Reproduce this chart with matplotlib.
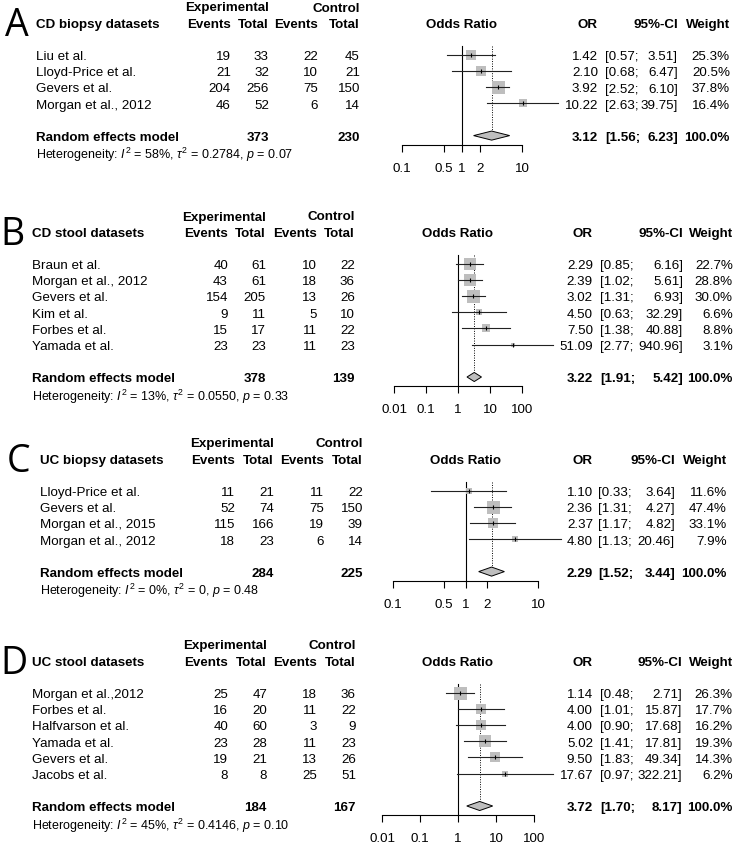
import matplotlib
matplotlib.use('Agg')
import matplotlib.pyplot as plt
import numpy as np
from matplotlib.ticker import FixedLocator, FixedFormatter, NullLocator

plt.rcParams['font.family'] = ['Liberation Sans', 'DejaVu Sans']
plt.rcParams['mathtext.fontset'] = 'custom'
plt.rcParams['mathtext.rm'] = 'Liberation Sans'
plt.rcParams['mathtext.it'] = 'Liberation Sans:italic'

# A - CD biopsy
a_names = ['Liu et al.', 'Lloyd-Price et al.', 'Gevers et al.', 'Morgan et al., 2012']
a_ev_e = [19, 21, 204, 46]
a_n_e = [33, 32, 256, 52]
a_ev_c = [22, 10, 75, 6]
a_n_c = [45, 21, 150, 14]
a_or = [1.42, 2.10, 3.92, 10.22]
a_lo = [0.57, 0.68, 2.52, 2.63]
a_hi = [3.51, 6.47, 6.10, 39.75]
a_w = [25.3, 20.5, 37.8, 16.4]
a_pool = [3.12, 1.56, 6.23]
a_tot = [373, 230]
a_het = ['58%', '0.2784', '0.07']

# B - CD stool
b_names = ['Braun et al.', 'Morgan et al., 2012', 'Gevers et al.', 'Kim et al.', 'Forbes et al.', 'Yamada et al.']
b_ev_e = [40, 43, 154, 9, 15, 23]
b_n_e = [61, 61, 205, 11, 17, 23]
b_ev_c = [10, 18, 13, 5, 11, 11]
b_n_c = [22, 36, 26, 10, 22, 23]
b_or = [2.29, 2.39, 3.02, 4.50, 7.50, 51.09]
b_lo = [0.85, 1.02, 1.31, 0.63, 1.38, 2.77]
b_hi = [6.16, 5.61, 6.93, 32.29, 40.88, 940.96]
b_w = [22.7, 28.8, 30.0, 6.6, 8.8, 3.1]
b_pool = [3.22, 1.91, 5.42]
b_tot = [378, 139]
b_het = ['13%', '0.0550', '0.33']

# C - UC biopsy
c_names = ['Lloyd-Price et al.', 'Gevers et al.', 'Morgan et al., 2015', 'Morgan et al., 2012']
c_ev_e = [11, 52, 115, 18]
c_n_e = [21, 74, 166, 23]
c_ev_c = [11, 75, 19, 6]
c_n_c = [22, 150, 39, 14]
c_or = [1.10, 2.36, 2.37, 4.80]
c_lo = [0.33, 1.31, 1.17, 1.13]
c_hi = [3.64, 4.27, 4.82, 20.46]
c_w = [11.6, 47.4, 33.1, 7.9]
c_pool = [2.29, 1.52, 3.44]
c_tot = [284, 225]
c_het = ['0%', '0', '0.48']

# D - UC stool
d_names = ['Morgan et al.,2012', 'Forbes et al.', 'Halfvarson et al.', 'Yamada et al.', 'Gevers et al.', 'Jacobs et al.']
d_ev_e = [25, 16, 40, 23, 19, 8]
d_n_e = [47, 20, 60, 28, 21, 8]
d_ev_c = [18, 11, 3, 11, 13, 25]
d_n_c = [36, 22, 9, 23, 26, 51]
d_or = [1.14, 4.00, 4.00, 5.02, 9.50, 17.67]
d_lo = [0.48, 1.01, 0.90, 1.41, 1.83, 0.97]
d_hi = [2.71, 15.87, 17.68, 17.81, 49.34, 322.21]
d_w = [26.3, 17.7, 16.2, 19.3, 14.3, 6.2]
d_pool = [3.72, 1.70, 8.17]
d_tot = [184, 167]
d_het = ['45%', '0.4146', '0.10']

small_ticks = [0.1, 0.5, 1, 2, 10]
small_labels = ['0.1', '0.5', '1', '2', '10']
wide_ticks = [0.01, 0.1, 1, 10, 100]
wide_labels = ['0.01', '0.1', '1', '10', '100']

W, H = 737, 845
L = 16.2
FS = 9.6

panels = [
    dict(letter='A', title='CD biopsy datasets', names=a_names, ev_e=a_ev_e, n_e=a_n_e, ev_c=a_ev_c, n_c=a_n_c,
         OR=a_or, lo=a_lo, hi=a_hi, w=a_w, pool=a_pool, tot=a_tot, het=a_het, ticks=small_ticks, labels=small_labels),
    dict(letter='B', title='CD stool datasets', names=b_names, ev_e=b_ev_e, n_e=b_n_e, ev_c=b_ev_c, n_c=b_n_c,
         OR=b_or, lo=b_lo, hi=b_hi, w=b_w, pool=b_pool, tot=b_tot, het=b_het, ticks=wide_ticks, labels=wide_labels),
    dict(letter='C', title='UC biopsy datasets', names=c_names, ev_e=c_ev_e, n_e=c_n_e, ev_c=c_ev_c, n_c=c_n_c,
         OR=c_or, lo=c_lo, hi=c_hi, w=c_w, pool=c_pool, tot=c_tot, het=c_het, ticks=small_ticks, labels=small_labels),
    dict(letter='D', title='UC stool datasets', names=d_names, ev_e=d_ev_e, n_e=d_n_e, ev_c=d_ev_c, n_c=d_n_c,
         OR=d_or, lo=d_lo, hi=d_hi, w=d_w, pool=d_pool, tot=d_tot, het=d_het, ticks=wide_ticks, labels=wide_labels),
]

# pixel layout of every panel (they were pasted with slightly different offsets)
layouts = [
    dict(top=7, lx=5, name=36, ev_e=231, n_e=269, ev_c=318, n_c=360, x0=402, x1=522, orr=598, cil=605, cir=678, wr=730),
    dict(top=216, lx=0, name=32, ev_e=228, n_e=266, ev_c=317, n_c=355, x0=394, x1=522, orr=593, cil=600, cir=683, wr=733),
    dict(top=443, lx=7, name=40, ev_e=235, n_e=274, ev_c=324, n_c=363, x0=393, x1=538, orr=593, cil=598, cir=675, wr=727),
    dict(top=645, lx=0, name=32, ev_e=228, n_e=267, ev_c=317, n_c=356, x0=382, x1=534, orr=593, cil=600, cir=682, wr=733),
]

fig = plt.figure(figsize=(W / 100, H / 100), dpi=100)
tax = fig.add_axes([0, 0, 1, 1])
tax.set_xlim(0, W)
tax.set_ylim(H, 0)
tax.axis('off')

gray = '#BEBEBE'

for p, lay in zip(panels, layouts):
    k = len(p['names'])
    re = 3 + k + 1
    py = lambda i: lay['top'] + i * L
    t = dict(va='center_baseline', fontsize=FS)
    b = dict(va='center_baseline', fontsize=FS, fontweight='bold')

    # panel letter
    tax.text(lay['lx'], py(1) - 2, p['letter'], fontsize=27, family=['Open Sans', 'DejaVu Sans'],
             va='center_baseline', ha='left')

    # headers
    tax.text(lay['n_e'], py(0), 'Experimental', ha='right', **b)
    tax.text(lay['n_c'], py(0), 'Control', ha='right', **b)
    tax.text(lay['name'], py(1), p['title'], ha='left', **b)
    tax.text(lay['ev_e'], py(1), 'Events', ha='right', **b)
    tax.text(lay['n_e'], py(1), 'Total', ha='right', **b)
    tax.text(lay['ev_c'], py(1), 'Events', ha='right', **b)
    tax.text(lay['n_c'], py(1), 'Total', ha='right', **b)
    x_one = lay['x0'] + (lay['x1'] - lay['x0']) * (0 - np.log10(p['ticks'][0])) / np.log10(p['ticks'][-1] / p['ticks'][0])
    tax.text(x_one, py(1), 'Odds Ratio', ha='center', **b)
    tax.text(lay['orr'], py(1), 'OR', ha='right', **b)
    tax.text(lay['cir'], py(1), '95%-CI', ha='right', **b)
    tax.text(lay['wr'], py(1), 'Weight', ha='right', **b)

    # study rows
    for i in range(k):
        y = py(3 + i)
        tax.text(lay['name'], y, p['names'][i], ha='left', **t)
        tax.text(lay['ev_e'], y, str(p['ev_e'][i]), ha='right', **t)
        tax.text(lay['n_e'], y, str(p['n_e'][i]), ha='right', **t)
        tax.text(lay['ev_c'], y, str(p['ev_c'][i]), ha='right', **t)
        tax.text(lay['n_c'], y, str(p['n_c'][i]), ha='right', **t)
        tax.text(lay['orr'], y, f"{p['OR'][i]:.2f}", ha='right', **t)
        tax.text(lay['cil'], y, f"[{p['lo'][i]:.2f};", ha='left', **t)
        tax.text(lay['cir'], y, f"{p['hi'][i]:.2f}]", ha='right', **t)
        tax.text(lay['wr'], y, f"{p['w'][i]:.1f}%", ha='right', **t)

    # pooled row
    y = py(re)
    tax.text(lay['name'], y, 'Random effects model', ha='left', **b)
    tax.text(lay['n_e'], y, str(p['tot'][0]), ha='right', **b)
    tax.text(lay['n_c'], y, str(p['tot'][1]), ha='right', **b)
    tax.text(lay['orr'], y, f"{p['pool'][0]:.2f}", ha='right', **b)
    tax.text(lay['cil'], y, f"[{p['pool'][1]:.2f};", ha='left', **b)
    tax.text(lay['cir'], y, f"{p['pool'][2]:.2f}]", ha='right', **b)
    tax.text(lay['wr'], y, '100.0%', ha='right', **b)
    i2, tau2, pv = p['het']
    tax.text(lay['name'], py(re + 1),
             f"Heterogeneity: $I^2$ = {i2}, $\\tau^2$ = {tau2}, $p$ = {pv}",
             ha='left', va='center_baseline', fontsize=9.0)

    # forest axes
    axis_px = py(re) + 9
    top_px = py(2)
    fa = fig.add_axes([lay['x0'] / W, 1 - axis_px / H, (lay['x1'] - lay['x0']) / W, (axis_px - top_px) / H])
    fa.set_xscale('log')
    fa.set_xlim(p['ticks'][0], p['ticks'][-1])
    fa.set_ylim(re + 9 / L, 2)
    fa.patch.set_visible(False)
    for s in ['top', 'right', 'left']:
        fa.spines[s].set_visible(False)
    fa.spines['bottom'].set_linewidth(0.8)
    fa.set_yticks([])
    fa.xaxis.set_major_locator(FixedLocator(p['ticks']))
    fa.xaxis.set_major_formatter(FixedFormatter(p['labels']))
    fa.xaxis.set_minor_locator(NullLocator())
    fa.tick_params(axis='x', direction='out', length=5, width=0.8, pad=7.5, labelsize=FS)

    fa.plot([1, 1], [2.45, re + 9 / L], color='black', lw=0.8, clip_on=False)
    fa.plot([p['pool'][0]] * 2, [2.45, re - 0.28], color='black', lw=0.7, ls=(0, (1, 1.5)), clip_on=False)

    wmax = max(p['w'])
    for i in range(k):
        yy = 3 + i
        side = 13 * 0.72 * np.sqrt(p['w'][i] / wmax)
        fa.plot([p['OR'][i]], [yy], marker='s', ms=side, color=gray, mew=0, clip_on=False, zorder=2)
        fa.plot([p['lo'][i], p['hi'][i]], [yy, yy], color='#222222', lw=0.8, clip_on=False, zorder=3)
        fa.plot([p['OR'][i]], [yy], marker='|', ms=3.5, mew=0.8, color='black', clip_on=False, zorder=4)

    est, lo, hi = p['pool']
    fa.fill([lo, est, hi, est], [re, re - 0.28, re, re + 0.28], facecolor=gray, edgecolor='black',
            lw=0.7, clip_on=False, zorder=3)

fig.savefig('out.png', dpi=100)
